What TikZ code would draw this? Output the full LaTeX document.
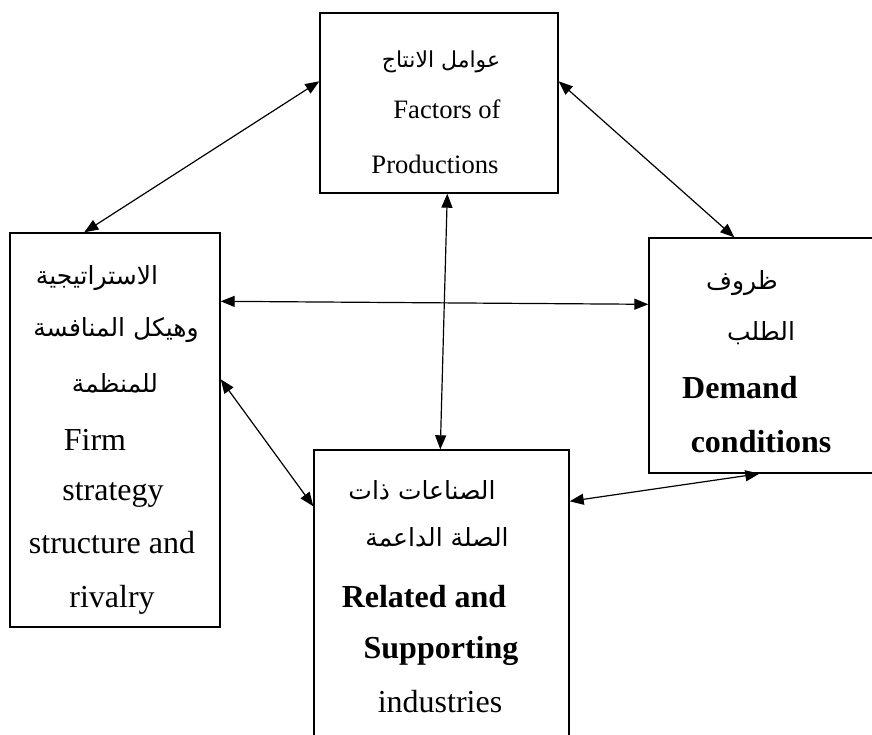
\documentclass[tikz,border=0pt]{standalone}
\usepackage{fontspec}
\setmainfont{Liberation Serif}
\newfontfamily\arabicfont[Script=Arabic]{DejaVu Sans}
\TeXXeTstate=1
\usetikzlibrary{arrows.meta}
\tikzset{
  box/.style={draw, line width=1.4pt, rectangle, inner sep=0pt},
  link/.style={{Triangle[length=14pt,width=11pt]}-{Triangle[length=14pt,width=11pt]}, line width=1.2pt},
  en/.style={anchor=base, inner sep=0pt, font=\fontsize{32}{38}\selectfont},
  ensmall/.style={anchor=base, inner sep=0pt, font=\fontsize{26.6}{32}\selectfont},
  enbold/.style={anchor=base, inner sep=0pt, font=\fontsize{32}{38}\selectfont\bfseries},
  ar/.style={anchor=center, inner sep=0pt, font=\fontsize{25}{30}\selectfont\arabicfont},
  arsmall/.style={anchor=center, inner sep=0pt, font=\fontsize{22}{28}\selectfont\arabicfont},
}
\begin{document}
\begin{tikzpicture}[x=1pt,y=1pt]
\useasboundingbox (0,0) rectangle (872,-734);
\clip (0,0) rectangle (872,-734);
\fill[white] (0,0) rectangle (872,-734);

% the four determinants
\node[box, minimum width=238pt, minimum height=180pt] (fp) at (439,-103) {};
\node[box, minimum width=210pt, minimum height=394pt] (lb) at (115,-430) {};
\node[box, minimum width=231pt, minimum height=235pt] (rb) at (764.5,-355.5) {};
\node[box, minimum width=255pt, minimum height=295pt] (bb) at (441.5,-597.5) {};

% Factors of production
\node[arsmall] (fpa) at (441,-62) {\beginR عوامل الانتاج\endR};
\node[ensmall] (fpb) at (447,-118) {Factors of};
\node[ensmall] (fpc) at (435,-173) {Productions};

% Firm strategy, structure and rivalry
\node[ar] (lba) at (97,-278) {\beginR الاستراتيجية\endR};
\node[ar] (lbb) at (116,-330) {\beginR وهيكل المنافسة\endR};
\node[ar] (lbc) at (115,-383) {\beginR للمنظمة\endR};
\node[en] (lbd) at (95,-450) {Firm};
\node[en] (lbe) at (113,-500) {strategy};
\node[en] (lbf) at (112,-553) {structure and};
\node[en] (lbg) at (112,-607) {rivalry};

% Demand conditions
\node[ar] (rba) at (742,-283) {\beginR ظروف\endR};
\node[ar] (rbb) at (761,-333) {\beginR الطلب\endR};
\node[enbold] (rbc) at (740,-398) {Demand};
\node[enbold] (rbd) at (761,-452) {conditions};

% Related and supporting industries
\node[ar] (bba) at (422,-490) {\beginR الصناعات ذات\endR};
\node[ar] (bbb) at (437,-537) {\beginR الصلة الداعمة\endR};
\node[enbold] (bbc) at (424,-607) {Related and};
\node[enbold] (bbd) at (441,-658) {Supporting};
\node[en] (bbe) at (440,-712) {industries};

% two-way links between the determinants
\draw[link] ([yshift=-69pt]fp.north west) -- ([xshift=75pt]lb.north west);
\draw[link] ([yshift=-69pt]fp.north east) -- ([xshift=86pt]rb.north west);
\draw[link] ([xshift=128pt]fp.south west) -- ([xshift=127pt]bb.north west);
\draw[link] ([yshift=-69pt]lb.north east) -- ([yshift=-67pt]rb.north west);
\draw[link] ([yshift=-147pt]lb.north east) -- ([yshift=-57pt]bb.north west);
\draw[link] ([yshift=-52pt]bb.north east) -- ([xshift=111pt]rb.south west);
\end{tikzpicture}
\end{document}
